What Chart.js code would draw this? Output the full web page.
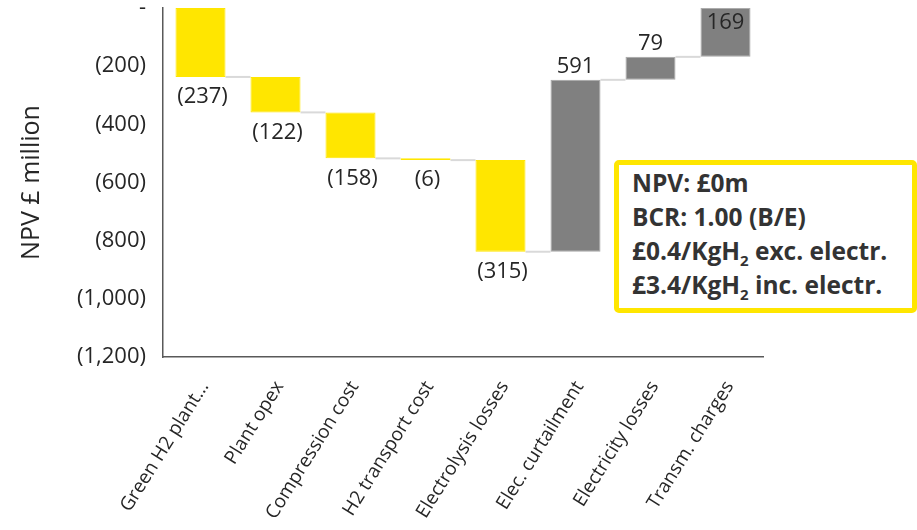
<!DOCTYPE html>
<html>
<head>
<meta charset="utf-8">
<script src="https://cdn.jsdelivr.net/npm/chart.js@4/dist/chart.umd.min.js"></script>
<style>
  html,body{margin:0;padding:0;background:#fff;}
  #wrap{position:relative;width:917px;height:530px;}
  #note{position:absolute;left:614px;top:160px;width:303px;height:153px;box-sizing:border-box;
    border:5px solid #FFE600;border-radius:5px;background:#fff;
    font-family:"Open Sans",sans-serif;font-weight:700;font-size:24.5px;color:#333;
    padding:1px 0 0 13px;line-height:34px;white-space:nowrap;}
  #note sub{font-size:15px;line-height:0;vertical-align:-6px;}
</style>
</head>
<body>
<div id="wrap">
  <canvas id="c" width="917" height="530"></canvas>
  <div id="note">
    <div>NPV: £0m</div>
    <div>BCR: 1.00 (B/E)</div>
    <div>£0.4/KgH<sub>2</sub> exc. electr.</div>
    <div>£3.4/KgH<sub>2</sub> inc. electr.</div>
  </div>
</div>
<script>
const categories = ["Green H2 plant...", "Plant opex", "Compression cost", "H2 transport cost",
  "Electrolysis losses", "Elec. curtailment", "Electricity losses", "Transm. charges"];
const deltas = [-237, -122, -158, -6, -315, 591, 79, 169];
const yTickValues = [0, -200, -400, -600, -800, -1000, -1200];
const yTickLabels = ["-", "(200)", "(400)", "(600)", "(800)", "(1,000)", "(1,200)"];

const YELLOW = "#FFE600", GREY = "#808080", TEXT = "#262626";

// floating bar ranges built from the deltas
const ranges = [];
let run = 0;
for (const d of deltas) { ranges.push([run, run + d]); run += d; }

function fmt(v){ return v < 0 ? "(" + Math.abs(v).toLocaleString("en-GB") + ")" : v.toLocaleString("en-GB"); }

const waterfallPlugin = {
  id: "waterfall",
  beforeDatasetsDraw(chart){
    const ctx = chart.ctx, meta = chart.getDatasetMeta(0), y = chart.scales.y;
    ctx.save();
    ctx.strokeStyle = "#d9d9d9"; ctx.lineWidth = 2;
    for (let i = 0; i < meta.data.length - 1; i++){
      const a = meta.data[i], b = meta.data[i+1];
      const yy = y.getPixelForValue(ranges[i][1]);
      ctx.beginPath();
      ctx.moveTo(a.x + a.width/2, yy); ctx.lineTo(b.x - b.width/2, yy); ctx.stroke();
    }
    ctx.restore();
  },
  afterDatasetsDraw(chart){
    const ctx = chart.ctx, meta = chart.getDatasetMeta(0), y = chart.scales.y;
    ctx.save();
    ctx.font = "22px 'Open Sans'"; ctx.fillStyle = TEXT; ctx.textAlign = "center";
    meta.data.forEach((bar, i) => {
      const d = deltas[i];
      const lo = Math.min(ranges[i][0], ranges[i][1]), hi = Math.max(ranges[i][0], ranges[i][1]);
      ctx.textBaseline = "middle";
      if (d < 0){
        ctx.fillText(fmt(d), bar.x + 2, y.getPixelForValue(lo) + 20);
      } else {
        let py = y.getPixelForValue(hi) - 13;
        if (py - 12 < chart.chartArea.top) py = chart.chartArea.top + 15;
        ctx.fillText(fmt(d), bar.x, py);
      }
    });
    ctx.restore();
  }
};

new Chart(document.getElementById("c"), {
  type: "bar",
  data: {
    labels: categories,
    datasets: [{
      data: ranges,
      backgroundColor: deltas.map(d => d < 0 ? YELLOW : GREY),
      borderColor: deltas.map(d => d < 0 ? YELLOW : "#a6a6a6"),
      borderWidth: 1,
      borderSkipped: false,
      categoryPercentage: 1,
      barPercentage: 0.667
    }]
  },
  options: {
    responsive: false,
    animation: false,
    layout: { padding: { left: 17, right: 154, top: 8, bottom: 0 } },
    plugins: { legend: { display: false }, tooltip: { enabled: false } },
    scales: {
      x: {
        grid: { display: false, drawTicks: false },
        border: { color: "#595959", width: 1.5 },
        ticks: { color: TEXT, font: { family: "Open Sans", size: 19 }, minRotation: 58, maxRotation: 58,
                 autoSkip: false, padding: 20, labelOffset: 4 },
        afterFit(s){ s.height = 173; }
      },
      y: {
        min: -1200, max: 0,
        afterBuildTicks(s){ s.ticks = yTickValues.map(v => ({ value: v })); },
        grid: { display: false, drawTicks: false },
        border: { color: "#595959", width: 1.5 },
        ticks: { color: TEXT, font: { family: "Open Sans", size: 22 }, padding: 17,
                 callback(v){ const i = yTickValues.indexOf(v); return i >= 0 ? yTickLabels[i] : ""; } },
        title: { display: true, text: "NPV £ million", color: TEXT, font: { family: "Open Sans", size: 25 }, padding: 0 },
        afterFit(s){ s.width = 146; s.paddingTop = 0; s.paddingBottom = 0; }
      }
    }
  },
  plugins: [waterfallPlugin]
});
</script>
</body>
</html>
